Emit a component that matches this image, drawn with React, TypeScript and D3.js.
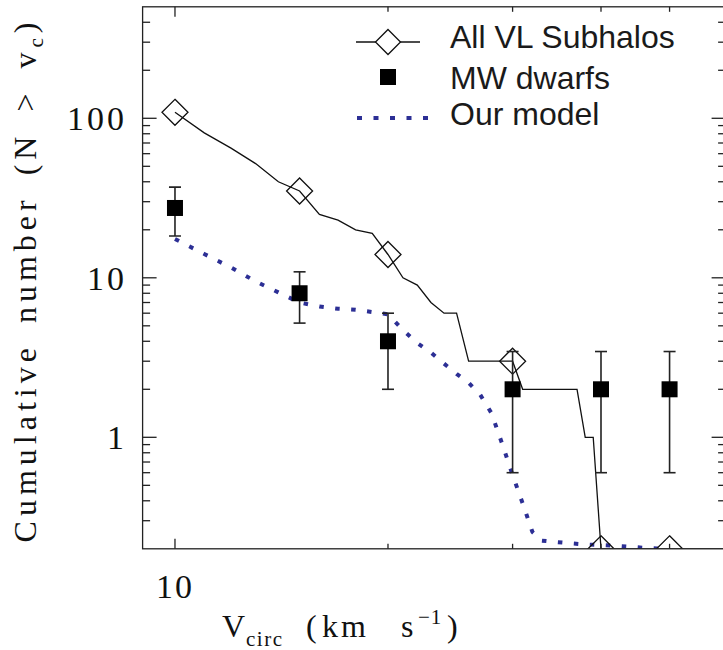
import React from 'react';
import * as d3 from 'd3';

// ---- data ----
const subhaloV = [10, 11, 12, 13, 14, 15, 16, 17, 18, 19, 20, 21, 22, 23, 24, 25, 26, 27, 28, 29, 30, 31, 32, 33, 34, 35, 36, 37, 38, 39, 40, 50, 60];
const subhaloN = [109, 81, 65, 52, 40, 35, 25, 23, 20, 19, 14, 10, 9, 7, 6, 6, 3, 3, 3, 3, 3, 2, 2, 2, 2, 2, 2, 2, 1, 1, 0, 0, 0];

const markerV = [10, 15, 20, 30, 40, 50];
const markerN = [109, 35, 14, 3, 0, 0];

const dwarfV = [10, 15, 20, 30, 40, 50];
const dwarfN = [27.4, 8, 4, 2, 2, 2];
const dwarfLo = [18.3, 5.2, 2.0, 0.6, 0.6, 0.6];
const dwarfHi = [37, 10.9, 6.0, 3.45, 3.45, 3.45];

const modelV = [10, 11, 12, 13, 14, 15, 16, 17, 18, 19, 20, 21, 22, 23, 24, 25, 26, 27, 28, 29, 30, 31, 32, 33, 34, 36, 38, 40, 42, 44, 46, 48, 50];
const modelN = [17.5, 14.1, 11.6, 9.5, 8.1, 7.0, 6.6, 6.4, 6.3, 6.1, 5.9, 4.7, 3.9, 3.4, 2.9, 2.5, 2.2, 1.85, 1.42, 0.91, 0.58, 0.385, 0.255, 0.225, 0.222, 0.217, 0.213, 0.211, 0.209, 0.206, 0.203, 0.201, 0.2];

const xMajorTicks = [10];
const xMinorTicks = [20, 30, 40, 50];
const yMajorTicks = [1, 10, 100];
const yMinorTicks = [0.3, 0.4, 0.5, 0.6, 0.7, 0.8, 0.9, 2, 3, 4, 5, 6, 7, 8, 9, 20, 30, 40, 50, 60, 70, 80, 90, 200, 300, 400];
const xTickLabels = ['10'];
const yTickLabels = ['1', '10', '100'];
const legendLabels = ['All VL Subhalos', 'MW dwarfs', 'Our model'];

const MODEL_COLOR = '#2c2f95';
const SERIF = "'Liberation Serif', 'Times New Roman', serif";
const SANS = "'Liberation Sans', Arial, sans-serif";

export default function App() {
  const W = 723;
  const H = 650;
  const x = d3.scaleLog().domain([9, 60]).range([142.6, 725.6]);
  const y = d3.scaleLog().domain([0.2, 500]).range([548.8, 6.8]).clamp(true);
  const [x0, x1] = x.range();
  const [yb, yt] = y.range();

  const line = d3
    .line<[number, number]>()
    .x((d) => x(d[0]))
    .y((d) => y(d[1]));

  const subhaloPath = line(subhaloV.map((v, i) => [v, subhaloN[i]]) as [number, number][]) || '';
  const modelPath = line(modelV.map((v, i) => [v, modelN[i]]) as [number, number][]) || '';

  const diamond = (cx: number, cy: number, r: number) =>
    `M${cx},${cy - r}L${cx + r},${cy}L${cx},${cy + r}L${cx - r},${cy}Z`;

  const sq = 16;
  const cap = 6;

  return (
    <svg
      width={W}
      height={H}
      viewBox={`0 0 ${W} ${H}`}
      style={{ position: 'absolute', left: 0, top: 0, background: '#fff' }}
    >
      <defs>
        <clipPath id="plotClip">
          <rect x={x0} y={yt} width={x1 - x0} height={yb - yt} />
        </clipPath>
      </defs>
      <rect x={0} y={0} width={W} height={H} fill="#fff" />

      {/* data */}
      <g clipPath="url(#plotClip)">
        <path d={modelPath} fill="none" stroke={MODEL_COLOR} strokeWidth={4} strokeDasharray="4.5 11.5" />
        <path d={subhaloPath} fill="none" stroke="#111" strokeWidth={1.3} />
        {markerV.map((v, i) => (
          <path key={'d' + i} d={diamond(x(v), y(markerN[i]), 13)} fill="none" stroke="#111" strokeWidth={1.3} />
        ))}
        {dwarfV.map((v, i) => {
          const cx = x(v);
          const ylo = y(dwarfLo[i]);
          const yhi = y(dwarfHi[i]);
          return (
            <g key={'e' + i} stroke="#222" strokeWidth={1.6}>
              <line x1={cx} x2={cx} y1={ylo} y2={yhi} />
              <line x1={cx - cap} x2={cx + cap} y1={ylo} y2={ylo} />
              <line x1={cx - cap} x2={cx + cap} y1={yhi} y2={yhi} />
            </g>
          );
        })}
        {dwarfV.map((v, i) => (
          <rect key={'s' + i} x={x(v) - sq / 2} y={y(dwarfN[i]) - sq / 2} width={sq} height={sq} fill="#000" />
        ))}
      </g>

      {/* axes frame */}
      <g stroke="#222" strokeWidth={1.3} fill="none">
        <rect x={x0} y={yt} width={x1 - x0} height={yb - yt} />
        {xMajorTicks.map((v) => (
          <g key={'xM' + v}>
            <line x1={x(v)} x2={x(v)} y1={yb} y2={yb - 10} />
            <line x1={x(v)} x2={x(v)} y1={yt} y2={yt + 10} />
          </g>
        ))}
        {xMinorTicks.map((v) => (
          <g key={'xm' + v}>
            <line x1={x(v)} x2={x(v)} y1={yb} y2={yb - 5} />
            <line x1={x(v)} x2={x(v)} y1={yt} y2={yt + 5} />
          </g>
        ))}
        {yMajorTicks.map((v) => (
          <g key={'yM' + v}>
            <line x1={x0} x2={x0 + 14} y1={y(v)} y2={y(v)} />
            <line x1={x1} x2={x1 - 14} y1={y(v)} y2={y(v)} />
          </g>
        ))}
        {yMinorTicks.map((v) => (
          <g key={'ym' + v}>
            <line x1={x0} x2={x0 + 7.5} y1={y(v)} y2={y(v)} />
            <line x1={x1} x2={x1 - 7.5} y1={y(v)} y2={y(v)} />
          </g>
        ))}
      </g>

      {/* tick labels */}
      <g fontFamily={SERIF} fontSize={34} fill="#111">
        {xMajorTicks.map((v, i) => (
          <text key={'xl' + v} x={x(v)} y={598} textAnchor="middle" letterSpacing={2}>
            {xTickLabels[i]}
          </text>
        ))}
        {yMajorTicks.map((v, i) => (
          <text key={'yl' + v} x={127} y={y(v) + 12} textAnchor="end" letterSpacing={3}>
            {yTickLabels[i]}
          </text>
        ))}
      </g>

      {/* axis titles */}
      <g fontFamily={SERIF} fill="#111">
        <text x={222} y={637} fontSize={32}>V</text>
        <text x={246} y={646} fontSize={21} letterSpacing={1.5}>circ</text>
        <text x={306} y={637} fontSize={32}>(</text>
        <text x={322} y={637} fontSize={32} letterSpacing={3}>km</text>
        <text x={401} y={637} fontSize={32}>s</text>
        <text x={418} y={624} fontSize={21} letterSpacing={1}>−1</text>
        <text x={447} y={637} fontSize={32}>)</text>
      </g>
      <g transform="translate(36, 280) rotate(-90)" fontFamily={SERIF} fill="#111">
        <text x={0} y={0} fontSize={32} textAnchor="middle" letterSpacing={5} wordSpacing={7} style={{ whiteSpace: 'pre' }}>
          {'Cumulative number (N > v'}
          <tspan fontSize={21} dy={7}>c</tspan>
          <tspan dy={-7}>)</tspan>
        </text>
      </g>

      {/* legend */}
      <g>
        <line x1={356} x2={420} y1={42} y2={42} stroke="#111" strokeWidth={1.3} />
        <path d={diamond(388, 42, 12.5)} fill="#fff" stroke="#111" strokeWidth={1.3} />
        <rect x={388 - 8} y={77 - 8} width={16} height={16} fill="#000" />
        <line x1={357} x2={430} y1={118} y2={118} stroke={MODEL_COLOR} strokeWidth={4} strokeDasharray="5 11.5" />
        <g fontFamily={SANS} fontSize={32} fill="#1a1a1a">
          <text x={450} y={48}>{legendLabels[0]}</text>
          <text x={450} y={89}>{legendLabels[1]}</text>
          <text x={450} y={125}>{legendLabels[2]}</text>
        </g>
      </g>
    </svg>
  );
}
